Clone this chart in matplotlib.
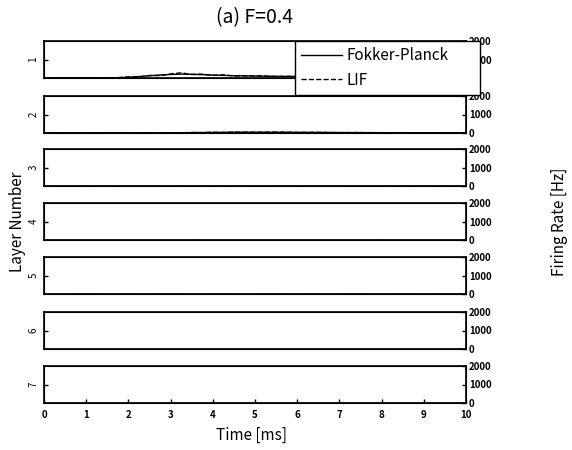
import matplotlib.pyplot as plt

plt.rcParams['font.family'] = ['Noto Sans CJK JP', 'DejaVu Sans']

# time axis [ms]
t = [0, 0.5, 1.0, 1.5, 1.75, 2.0, 2.25, 2.5, 2.75, 3.0, 3.25, 3.5, 3.75,
     4.0, 4.25, 4.5, 5.0, 5.5, 6.0, 6.5, 7.0, 7.5, 8.0, 8.5, 9.0, 9.5, 10.0]

# firing rate [Hz] per layer, Fokker-Planck
fp = {
    1: [0, 0, 0, 0, 10, 40, 80, 120, 160, 190, 210, 200, 180,
        160, 140, 125, 105, 90, 80, 70, 60, 55, 50, 45, 40, 40, 40],
    2: [0, 0, 0, 0, 0, 0, 0, 0, 5, 10, 15, 20, 25,
        30, 35, 40, 45, 40, 35, 30, 25, 20, 18, 15, 12, 10, 10],
    3: [0] * 27,
    4: [0] * 27,
    5: [0] * 27,
    6: [0] * 27,
    7: [0] * 27,
}
# LIF
lif = {
    1: [0, 0, 0, 0, 20, 60, 50, 140, 130, 220, 280, 190, 210,
        140, 170, 110, 120, 80, 95, 60, 70, 45, 55, 40, 50, 35, 45],
    2: [0, 0, 0, 0, 0, 0, 0, 10, 0, 15, 10, 30, 20,
        40, 25, 50, 35, 50, 30, 35, 20, 25, 15, 20, 10, 15, 10],
    3: [0] * 27,
    4: [0] * 27,
    5: [0] * 27,
    6: [0] * 27,
    7: [0] * 27,
}

layers = [1, 2, 3, 4, 5, 6, 7]
xticks = list(range(11))
rate_ticks = [0, 1000, 2000]

W, H = 572, 450
fig = plt.figure(figsize=(W / 100, H / 100), dpi=100)

tops = [41, 96, 149, 203, 257, 312, 366]
ph = 37
x0, x1 = 44, 466

for i, layer in enumerate(layers):
    ax = fig.add_axes([x0 / W, 1 - (tops[i] + ph) / H, (x1 - x0) / W, ph / H])
    ax2 = ax.twinx()
    l1, = ax.plot(t, fp[layer], color='black', lw=1.0, label='Fokker-Planck')
    l2, = ax.plot(t, lif[layer], color='black', lw=1.0, ls='--', label='LIF')
    ax.set_xlim(0, 10)
    ax.set_ylim(0, 2000)
    ax.set_yticks(rate_ticks)
    ax.set_yticklabels([str(v) for v in rate_ticks], fontsize=7, fontweight='bold')
    ax.set_xticks(xticks)
    ax.tick_params(direction='in', length=3, width=1, pad=2)
    if i == len(layers) - 1:
        ax.set_xticklabels([str(v) for v in xticks], fontsize=7, fontweight='bold')
        ax.tick_params(axis='x', pad=5)
    else:
        ax.set_xticklabels([])
        ax.tick_params(axis='x', length=0)
    for s in ax.spines.values():
        s.set_linewidth(1.2)

    ax2.set_ylim(0, 1)
    ax2.set_yticks([0.5])
    ax2.set_yticklabels([str(layer)], fontsize=7, rotation=90, va='center')
    ax2.tick_params(direction='in', length=3, width=1, pad=4)
    ax.yaxis.tick_right()
    ax2.yaxis.tick_left()

    if i == 0:
        leg = fig.legend(handles=[l1, l2], loc='upper left',
                         bbox_to_anchor=(295 / W, 1 - 94 / H, 185 / W, 53 / H),
                         mode='expand', fontsize=11,
                         frameon=True, fancybox=False, framealpha=1,
                         handlelength=2.7, borderaxespad=0, borderpad=0.4,
                         labelspacing=0.5, handletextpad=0.3)
        leg.get_frame().set_edgecolor('black')
        leg.get_frame().set_linewidth(1.0)
        leg.set_zorder(10)

fig.text(255 / W, 1 - 18 / H, '(a) F=0.4', fontsize=14, ha='center', va='center')
fig.text(252 / W, 1 - 435 / H, 'Time [ms]', fontsize=11, ha='center', va='center')
fig.text(18 / W, 1 - 222 / H, 'Layer Number', fontsize=11, rotation=90,
         ha='center', va='center')
fig.text(560 / W, 1 - 222 / H, 'Firing Rate [Hz]', fontsize=11, rotation=90,
         ha='center', va='center')

fig.savefig('out.png', dpi=100)
